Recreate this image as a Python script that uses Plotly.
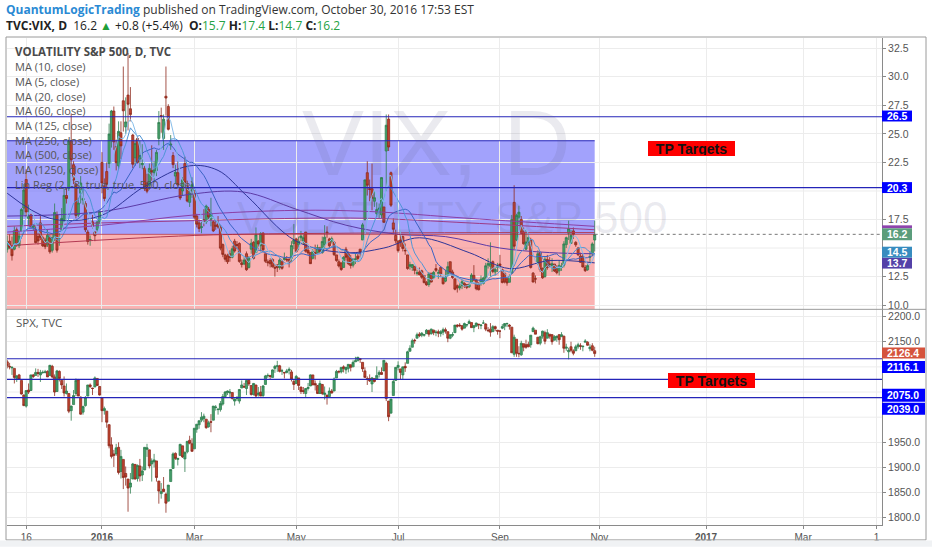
import pandas as pd
import plotly.graph_objects as go
from plotly.subplots import make_subplots

# ---------------- data ----------------
holidays = ["2015-11-26", "2015-12-25", "2016-01-01", "2016-01-18", "2016-02-15",
            "2016-03-25", "2016-05-30", "2016-07-04", "2016-09-05"]
dates = [d for d in pd.bdate_range("2015-11-04", "2016-10-28")
         if d.strftime("%Y-%m-%d") not in holidays]

vix_open = [
    14.9, 15.6, 15.1, 14.9, 16.6, 15.2, 16.5, 18.5, 21.0, 17.6, 17.9, 16.8, 16.6, 16.0, 17.2, 15.9, 15.7, 15.3,
    15.9, 14.8, 15.9, 17.9, 15.8, 16.6, 17.4, 19.6, 20.2, 24.4, 22.3, 20.6, 17.9, 19.8, 19.2, 18.9, 16.4, 15.7, 17.3, 16.4, 16.6, 17.3,
    22.5, 20.4, 21.7, 22.4, 24.4, 27.0, 23.9, 22.2, 25.1, 27.9, 25.6, 28.4, 27.2, 24.9, 22.9, 24.6, 22.8, 22.3, 22.0,
    20.7, 20.5, 21.8, 21.6, 21.8, 24.6, 26.6, 24.6, 28.3, 27.4, 24.0, 23.1, 21.3, 21.6, 20.2, 20.0, 22.4, 20.4, 19.0, 20.0,
    19.8, 17.8, 17.2, 16.8, 17.5, 17.3, 18.4, 17.5, 17.3, 17.0, 17.1, 16.8, 15.3, 14.4, 14.3, 14.5, 14.2, 15.6, 15.3, 15.4, 13.7, 13.6,
    14.5, 13.3, 14.9, 15.5, 14.6, 15.6, 15.2, 16.3, 14.5, 13.8, 13.9, 14.0, 13.3, 13.5, 13.3, 13.8, 14.0, 14.0, 14.0, 14.1, 15.4,
    15.8, 15.3, 15.9, 15.6, 16.4, 14.8, 14.6, 14.1, 14.6, 14.6, 15.0, 14.6, 15.3, 16.4, 15.8, 15.6, 15.5, 14.4, 13.8, 13.7, 13.3,
    14.9, 14.5, 14.1, 13.5, 14.0, 14.3, 14.9, 15.7, 17.5, 21.6, 20.2, 20.2, 19.1, 18.0, 18.4, 17.9, 18.6, 23.5, 26.3, 21.6, 17.2, 16.1,
    15.6, 15.7, 16.0, 14.8, 14.4, 13.4, 13.3, 13.4, 12.8, 12.9, 13.0, 12.6, 12.0, 11.8, 12.8, 12.4, 13.2, 12.8, 13.3, 12.4,
    12.1, 12.6, 13.8, 12.9, 12.3, 11.7, 11.5, 11.7, 11.9, 11.8, 11.6, 12.0, 12.6, 12.2, 11.9, 12.0, 11.9, 12.4, 13.5, 13.4, 13.8, 12.9, 13.3,
    13.6, 13.1, 12.8, 12.3, 12.0, 12.8, 19.0, 15.7, 17.7, 17.5, 16.4, 14.9, 15.5, 15.7, 12.8, 12.3, 13.7, 14.6, 13.2, 12.5, 14.0,
    13.6, 13.4, 13.6, 13.2, 13.0, 13.3, 13.5, 15.3, 16.3, 15.4, 16.5, 15.5, 15.0, 14.3, 14.3, 13.3, 13.1, 14.2, 14.5, 15.7,
]
vix_high = [
    16.1, 16.2, 16.0, 16.9, 16.8, 16.4, 18.5, 20.6, 21.9, 18.8, 18.0, 17.1, 16.9, 16.3, 17.8, 16.1, 15.9, 16.6,
    16.2, 16.2, 18.9, 18.2, 16.3, 18.5, 20.2, 20.3, 24.5, 26.8, 22.6, 20.7, 19.4, 21.3, 20.4, 19.1, 16.6, 16.1, 17.9, 16.5, 17.4, 18.3,
    23.4, 21.1, 22.5, 25.9, 27.1, 27.4, 24.5, 26.1, 26.1, 30.9, 28.2, 32.1, 29.1, 25.0, 24.5, 24.8, 24.4, 24.1, 22.2,
    21.5, 22.4, 24.0, 22.6, 23.6, 27.0, 27.3, 26.7, 30.9, 27.6, 24.9, 23.4, 22.3, 22.6, 20.3, 21.2, 23.0, 20.9, 20.1, 21.2,
    20.1, 18.0, 17.5, 17.3, 18.4, 18.8, 18.6, 19.4, 17.4, 17.4, 17.8, 17.0, 15.4, 14.5, 14.5, 14.8, 15.2, 15.8, 15.6, 15.5, 14.0, 14.2,
    14.7, 14.3, 15.8, 15.6, 16.8, 15.7, 16.4, 16.4, 14.5, 14.0, 14.1, 14.1, 13.6, 13.6, 14.1, 13.9, 14.6, 14.3, 14.2, 15.6, 17.1,
    15.9, 16.0, 16.5, 16.2, 16.4, 15.1, 14.6, 14.9, 15.3, 15.3, 15.1, 16.0, 17.0, 16.9, 15.9, 16.0, 15.6, 14.4, 14.0, 13.7, 14.3,
    15.1, 14.5, 14.4, 14.1, 14.5, 14.5, 14.9, 17.2, 21.0, 22.6, 21.0, 22.4, 20.0, 19.0, 18.9, 21.2, 18.6, 26.7, 26.7, 21.7, 17.6, 16.6,
    15.7, 16.2, 16.1, 15.4, 14.4, 13.8, 13.6, 13.4, 13.1, 13.3, 13.1, 12.6, 12.1, 12.9, 12.8, 13.0, 13.6, 13.1, 13.3, 12.5,
    13.1, 13.8, 13.8, 13.1, 12.3, 11.8, 11.9, 12.2, 12.0, 11.8, 11.9, 12.8, 13.5, 12.3, 12.0, 12.6, 12.5, 13.7, 14.1, 15.5, 13.9, 13.3, 13.7,
    14.4, 13.2, 12.8, 12.4, 12.7, 17.9, 20.5, 18.0, 18.7, 17.8, 16.8, 16.6, 16.3, 15.9, 12.9, 12.6, 14.8, 14.7, 13.3, 14.2, 14.4,
    14.2, 14.1, 13.6, 13.5, 13.9, 13.7, 15.6, 16.0, 17.4, 16.6, 16.8, 15.6, 15.1, 14.6, 14.5, 13.5, 13.7, 14.7, 15.5, 17.4,
]
vix_low = [
    14.6, 14.9, 13.9, 14.8, 15.1, 15.0, 16.4, 17.9, 17.7, 16.9, 16.8, 16.5, 15.4, 15.3, 15.7, 15.1, 14.9, 15.1,
    14.5, 14.6, 15.6, 14.6, 15.2, 16.5, 17.3, 18.9, 20.0, 22.0, 20.6, 17.6, 17.7, 18.9, 18.8, 16.4, 15.3, 15.2, 16.7, 15.6, 16.4, 17.1,
    19.8, 19.1, 20.2, 22.0, 23.8, 23.6, 21.8, 21.9, 22.8, 25.2, 25.0, 25.3, 26.1, 22.0, 22.2, 22.4, 22.0, 21.9, 20.0,
    19.8, 20.1, 20.9, 20.8, 21.3, 24.0, 25.1, 23.6, 26.6, 25.3, 23.6, 22.0, 20.7, 20.4, 19.2, 19.6, 20.5, 19.0, 18.6, 19.4,
    17.5, 16.8, 16.4, 16.3, 16.9, 17.1, 17.5, 16.9, 16.4, 16.6, 16.7, 14.8, 14.2, 13.8, 13.6, 13.8, 14.1, 14.6, 14.9, 13.7, 13.3, 13.5,
    13.0, 13.2, 14.5, 14.0, 14.6, 14.9, 14.7, 14.6, 13.7, 13.4, 13.3, 13.3, 12.5, 12.9, 13.1, 13.1, 13.9, 13.8, 13.3, 13.8, 14.9,
    14.6, 14.8, 15.6, 15.3, 14.6, 14.4, 13.6, 14.0, 14.0, 14.5, 14.5, 14.5, 15.0, 15.9, 15.0, 15.4, 14.3, 13.8, 13.3, 13.0, 13.3,
    13.9, 13.5, 13.2, 13.3, 13.6, 13.8, 14.2, 15.7, 17.4, 19.6, 19.1, 18.3, 18.6, 17.7, 17.6, 17.6, 17.2, 20.0, 23.5, 18.6, 16.3, 15.4,
    14.6, 15.1, 14.7, 14.4, 13.1, 13.1, 13.0, 12.7, 12.6, 12.6, 12.3, 11.9, 11.7, 11.6, 12.0, 12.3, 12.9, 12.3, 12.5, 11.8,
    12.0, 12.5, 12.7, 12.3, 11.3, 11.1, 11.3, 11.4, 11.5, 11.4, 11.5, 11.9, 12.1, 11.3, 11.3, 11.7, 11.8, 12.2, 13.2, 12.5, 12.8, 12.6, 12.9,
    13.2, 11.9, 11.9, 11.7, 12.0, 12.8, 14.9, 15.6, 17.1, 16.2, 15.3, 14.8, 15.2, 13.2, 12.0, 11.9, 13.5, 12.9, 12.3, 12.4, 13.1,
    13.3, 12.9, 12.9, 12.7, 12.6, 13.0, 13.3, 15.0, 15.7, 15.4, 15.8, 15.1, 14.3, 13.7, 13.3, 12.9, 13.0, 13.8, 14.3, 14.7,
]
vix_close = [
    15.51, 15.05, 14.33, 16.52, 15.29, 16.06, 18.37, 20.08, 18.16, 17.83, 16.85, 16.99, 15.47, 15.62, 15.93, 15.19, 15.12, 16.13,
    14.67, 15.91, 18.11, 14.81, 15.84, 17.60, 19.61, 19.34, 24.39, 22.73, 20.95, 17.86, 18.94, 20.70, 19.34, 16.60, 15.57, 15.74, 16.91, 16.08, 17.29, 18.21,
    20.70, 19.34, 20.59, 24.99, 27.01, 24.30, 22.47, 25.22, 23.95, 27.02, 26.05, 27.59, 26.69, 22.34, 24.15, 22.50, 23.11, 22.42, 20.20,
    19.98, 21.98, 21.65, 21.84, 23.38, 26.00, 26.54, 26.29, 28.14, 25.40, 24.11, 22.31, 21.64, 20.53, 19.38, 20.98, 20.72, 19.11, 19.81, 20.55,
    17.70, 17.09, 16.70, 16.86, 17.35, 18.67, 17.72, 18.05, 16.50, 16.92, 16.84, 14.99, 14.44, 14.02, 13.79, 14.17, 14.94, 14.74, 15.24, 13.82, 13.56, 13.95,
    13.10, 14.12, 15.42, 14.09, 16.16, 15.36, 16.26, 14.85, 13.84, 13.72, 13.62, 13.35, 13.24, 13.28, 13.95, 13.22, 14.08, 13.96, 13.77, 15.22, 15.70,
    14.68, 15.60, 16.05, 15.91, 14.72, 14.57, 13.63, 14.69, 14.41, 15.04, 14.68, 15.57, 15.95, 16.33, 15.20, 15.82, 14.42, 13.90, 13.43, 13.12, 14.19,
    14.20, 13.63, 13.47, 14.01, 14.05, 14.08, 14.64, 17.03, 20.97, 20.50, 20.14, 19.37, 19.41, 18.37, 18.48, 21.17, 17.25, 25.76, 23.85, 18.75, 16.64, 15.63,
    14.77, 15.58, 14.96, 14.76, 13.20, 13.54, 13.55, 13.04, 12.82, 12.67, 12.44, 11.97, 11.77, 12.74, 12.02, 12.87, 13.05, 12.83, 12.72, 11.87,
    12.44, 13.37, 12.86, 12.42, 11.39, 11.50, 11.66, 12.05, 11.68, 11.55, 11.81, 12.64, 12.19, 11.43, 11.34, 12.27, 12.38, 13.45, 13.63, 13.65, 12.94, 13.12, 13.42,
    13.48, 11.98, 12.02, 11.94, 12.51, 17.50, 15.16, 17.85, 18.14, 16.30, 15.37, 15.53, 15.92, 13.30, 12.02, 12.29, 14.50, 13.10, 12.39, 14.02, 13.29,
    13.57, 13.63, 12.99, 12.84, 13.48, 13.38, 15.36, 15.91, 16.69, 16.12, 16.21, 15.28, 14.41, 13.75, 13.34, 13.02, 13.46, 14.24, 15.36, 16.19,
]

spx_open = [
    2110, 2101, 2098, 2097, 2077, 2084, 2073, 2044, 2022, 2054, 2053, 2084, 2083, 2089, 2084, 2089, 2089, 2091,
    2083, 2101, 2080, 2051, 2091, 2073, 2062, 2047, 2047, 2013, 2025, 2047, 2074, 2040, 2010, 2023, 2042, 2064, 2058, 2060, 2077, 2061,
    2038, 2013, 2012, 1985, 1945, 1927, 1927, 1940, 1892, 1916, 1888, 1877, 1861, 1877, 1906, 1878, 1903, 1885, 1895,
    1936, 1935, 1907, 1911, 1913, 1873, 1848, 1857, 1847, 1833, 1872, 1898, 1928, 1916, 1924, 1943, 1917, 1931, 1954, 1947,
    1937, 1976, 1985, 1994, 1997, 1996, 1981, 1991, 1994, 2019, 2015, 2015, 2026, 2041, 2049, 2048, 2049, 2032, 2037, 2032, 2058, 2061,
    2057, 2073, 2063, 2045, 2064, 2045, 2050, 2043, 2065, 2082, 2083, 2079, 2097, 2101, 2102, 2092, 2089, 2089, 2093, 2090, 2071,
    2067, 2078, 2060, 2053, 2047, 2057, 2062, 2084, 2067, 2063, 2047, 2065, 2045, 2044, 2041, 2052, 2052, 2078, 2091, 2090, 2100,
    2094, 2097, 2104, 2100, 2110, 2112, 2116, 2109, 2092, 2077, 2077, 2066, 2077, 2075, 2085, 2089, 2092, 2107, 2032, 2008, 2043, 2073,
    2099, 2096, 2084, 2101, 2107, 2131, 2139, 2153, 2157, 2165, 2163, 2163, 2166, 2172, 2166, 2173, 2168, 2170, 2166, 2169,
    2174, 2170, 2157, 2163, 2168, 2183, 2183, 2182, 2177, 2183, 2186, 2188, 2178, 2181, 2185, 2182, 2187, 2185, 2173, 2175, 2170, 2180, 2173,
    2171, 2177, 2181, 2186, 2183, 2179, 2125, 2155, 2127, 2124, 2146, 2144, 2145, 2144, 2170, 2173, 2159, 2147, 2161, 2168, 2157,
    2165, 2164, 2153, 2158, 2164, 2160, 2161, 2137, 2130, 2140, 2132, 2132, 2140, 2142, 2140, 2149, 2149, 2136, 2142, 2132,
]
spx_high = [
    2114, 2108, 2101, 2097, 2084, 2086, 2073, 2045, 2053, 2067, 2084, 2086, 2097, 2096, 2094, 2093, 2094, 2093,
    2104, 2104, 2085, 2094, 2093, 2073, 2081, 2067, 2047, 2023, 2054, 2077, 2076, 2041, 2023, 2042, 2064, 2067, 2058, 2081, 2077, 2062,
    2038, 2021, 2012, 1986, 1960, 1935, 1947, 1950, 1935, 1916, 1902, 1877, 1889, 1909, 1907, 1906, 1917, 1902, 1940,
    1947, 1935, 1918, 1927, 1913, 1873, 1869, 1881, 1850, 1865, 1896, 1930, 1930, 1919, 1947, 1943, 1932, 1952, 1963, 1958,
    1978, 1986, 1993, 2010, 2007, 1996, 1993, 2006, 2022, 2024, 2016, 2032, 2046, 2052, 2053, 2056, 2049, 2037, 2042, 2056, 2073, 2068,
    2075, 2074, 2063, 2068, 2064, 2060, 2062, 2064, 2084, 2087, 2083, 2095, 2104, 2112, 2104, 2096, 2089, 2096, 2099, 2094, 2074,
    2084, 2078, 2060, 2060, 2058, 2068, 2085, 2084, 2073, 2064, 2073, 2066, 2061, 2044, 2059, 2056, 2079, 2094, 2093, 2099, 2103,
    2100, 2105, 2105, 2113, 2120, 2120, 2117, 2109, 2099, 2081, 2085, 2080, 2077, 2101, 2093, 2099, 2113, 2110, 2032, 2036, 2074, 2099,
    2111, 2096, 2100, 2109, 2132, 2143, 2156, 2156, 2168, 2169, 2169, 2164, 2175, 2174, 2176, 2174, 2173, 2174, 2173, 2178,
    2178, 2170, 2165, 2169, 2183, 2185, 2187, 2182, 2188, 2185, 2194, 2188, 2183, 2188, 2185, 2185, 2193, 2187, 2179, 2187, 2183, 2182, 2173,
    2173, 2185, 2187, 2188, 2185, 2179, 2164, 2155, 2141, 2152, 2146, 2154, 2150, 2163, 2180, 2173, 2159, 2162, 2172, 2172, 2175,
    2165, 2165, 2163, 2162, 2165, 2169, 2162, 2146, 2138, 2150, 2135, 2144, 2148, 2147, 2142, 2155, 2151, 2145, 2147, 2140,
]
spx_low = [
    2097, 2095, 2084, 2067, 2070, 2074, 2045, 2022, 2019, 2046, 2052, 2078, 2083, 2080, 2070, 2086, 2087, 2080,
    2083, 2077, 2042, 2051, 2071, 2056, 2041, 2045, 2008, 1993, 2025, 2042, 2042, 2005, 2005, 2021, 2042, 2058, 2044, 2060, 2062, 2043,
    1990, 2005, 1979, 1938, 1918, 1901, 1923, 1886, 1878, 1857, 1864, 1812, 1848, 1877, 1876, 1872, 1872, 1873, 1895,
    1921, 1898, 1872, 1900, 1872, 1828, 1838, 1851, 1810, 1833, 1872, 1898, 1915, 1904, 1924, 1919, 1891, 1928, 1946, 1932,
    1937, 1969, 1977, 1990, 1990, 1977, 1979, 1970, 1994, 2013, 2005, 2011, 2023, 2038, 2044, 2039, 2035, 2023, 2032, 2027, 2058, 2058,
    2044, 2062, 2043, 2043, 2040, 2041, 2042, 2039, 2065, 2078, 2075, 2079, 2088, 2090, 2089, 2084, 2077, 2087, 2085, 2071, 2054,
    2067, 2054, 2046, 2046, 2039, 2053, 2062, 2064, 2053, 2046, 2047, 2044, 2035, 2025, 2041, 2047, 2052, 2078, 2087, 2087, 2089,
    2086, 2089, 2091, 2100, 2110, 2112, 2108, 2090, 2079, 2064, 2070, 2050, 2069, 2075, 2079, 2084, 2092, 2032, 1992, 2008, 2043, 2073,
    2093, 2075, 2075, 2090, 2107, 2131, 2139, 2146, 2157, 2159, 2159, 2160, 2166, 2160, 2164, 2163, 2161, 2159, 2160, 2163,
    2166, 2149, 2155, 2159, 2168, 2178, 2179, 2172, 2177, 2179, 2186, 2178, 2169, 2180, 2175, 2175, 2187, 2171, 2169, 2160, 2170, 2171, 2164,
    2157, 2175, 2173, 2179, 2174, 2128, 2120, 2120, 2119, 2122, 2131, 2136, 2139, 2138, 2170, 2165, 2145, 2143, 2156, 2145, 2157,
    2156, 2144, 2153, 2150, 2144, 2160, 2128, 2132, 2115, 2129, 2123, 2132, 2136, 2134, 2131, 2149, 2142, 2131, 2131, 2120,
]
spx_close = [
    2102, 2100, 2099, 2079, 2082, 2075, 2046, 2023, 2053, 2050, 2084, 2081, 2089, 2087, 2089, 2089, 2090, 2080,
    2103, 2080, 2050, 2092, 2077, 2064, 2048, 2052, 2012, 2022, 2043, 2073, 2042, 2006, 2021, 2039, 2064, 2061, 2057, 2078, 2063, 2044,
    2013, 2017, 1990, 1943, 1922, 1924, 1939, 1890, 1922, 1880, 1881, 1859, 1869, 1907, 1877, 1904, 1883, 1893, 1940,
    1939, 1903, 1913, 1915, 1880, 1853, 1852, 1852, 1829, 1865, 1896, 1927, 1918, 1918, 1946, 1921, 1930, 1952, 1948, 1932,
    1978, 1986, 1993, 2000, 2002, 1979, 1989, 1990, 2022, 2020, 2016, 2027, 2041, 2050, 2052, 2050, 2037, 2036, 2037, 2055, 2064, 2060,
    2073, 2066, 2045, 2067, 2042, 2048, 2042, 2062, 2082, 2083, 2081, 2094, 2101, 2102, 2091, 2092, 2088, 2092, 2095, 2076, 2065,
    2081, 2063, 2051, 2051, 2057, 2059, 2084, 2064, 2064, 2047, 2067, 2047, 2048, 2040, 2052, 2048, 2076, 2091, 2090, 2099, 2097,
    2099, 2105, 2099, 2109, 2112, 2119, 2115, 2096, 2079, 2075, 2072, 2078, 2071, 2083, 2089, 2085, 2113, 2037, 2001, 2036, 2071, 2099,
    2103, 2089, 2100, 2098, 2130, 2137, 2152, 2152, 2164, 2162, 2167, 2164, 2173, 2165, 2175, 2168, 2169, 2167, 2170, 2174,
    2171, 2157, 2164, 2164, 2183, 2181, 2182, 2175, 2186, 2184, 2190, 2178, 2182, 2187, 2184, 2183, 2187, 2175, 2172, 2169, 2180, 2176, 2171,
    2171, 2180, 2186, 2186, 2181, 2128, 2159, 2127, 2126, 2147, 2139, 2139, 2140, 2163, 2177, 2165, 2146, 2160, 2171, 2151, 2168,
    2161, 2150, 2160, 2161, 2154, 2164, 2137, 2139, 2133, 2133, 2127, 2140, 2144, 2141, 2141, 2151, 2143, 2139, 2133, 2126.4,
]

for name, arr in [("vix_open", vix_open), ("vix_high", vix_high), ("vix_low", vix_low), ("vix_close", vix_close),
                  ("spx_open", spx_open), ("spx_high", spx_high), ("spx_low", spx_low), ("spx_close", spx_close)]:
    assert len(arr) == len(dates), f"{name}: {len(arr)} vs {len(dates)}"

# long moving averages (knots)
ma60_dates = ["2015-11-04", "2015-12-01", "2015-12-31", "2016-01-29", "2016-02-26", "2016-03-15", "2016-04-01",
              "2016-05-02", "2016-06-01", "2016-06-23", "2016-07-15", "2016-08-15", "2016-09-08", "2016-10-03", "2016-10-28"]
ma60_vals = [19.8, 17.6, 17.8, 20.4, 22.2, 21.8, 19.6, 15.6, 14.6, 15.0, 15.9, 14.6, 13.2, 13.9, 13.7]
ma125_dates = ["2015-11-04", "2016-01-04", "2016-02-26", "2016-03-31", "2016-05-02", "2016-06-01", "2016-07-01",
               "2016-08-01", "2016-09-01", "2016-10-03", "2016-10-28"]
ma125_vals = [17.8, 18.2, 19.7, 19.9, 18.4, 17.0, 16.2, 16.0, 15.0, 14.6, 14.5]
ma250_dates = ["2015-11-04", "2016-01-04", "2016-03-01", "2016-05-02", "2016-06-15", "2016-08-15", "2016-10-28"]
ma250_vals = [16.4, 17.0, 17.9, 18.3, 18.2, 17.6, 16.9]
ma500_vals = [16.9, 17.2, 17.4, 17.6, 17.6, 17.2, 16.6]
ma1250_dates = ["2015-11-04", "2016-03-01", "2016-06-01", "2016-10-28"]
ma1250_vals = [15.2, 16.1, 16.3, 16.35]

vix_levels = [26.5, 20.3]
spx_levels = [2116.1, 2075.0, 2039.0]
vix_zone_top = 24.4
vix_last = 16.2
ma_label_vals = [14.5, 13.7]
spx_last = 2126.4

# price-axis ticks (those hidden behind the price labels are left out, their grid kept)
vix_ticks = [10.0, 12.5, 17.5, 22.5, 25.0, 27.5, 30.0, 32.5]
vix_hidden_grid = [15.0, 20.0]
spx_ticks = [1800, 1850, 1900, 1950, 2150, 2200]
spx_hidden_grid = [2000, 2050, 2100]

tick_dates = ["2015-11-16", "2016-01-04", "2016-03-01", "2016-05-02", "2016-07-01", "2016-09-01",
              "2016-11-01", "2017-01-03", "2017-03-01", "2017-04-13"]
tick_text = ["16", "<b>2016</b>", "Mar", "May", "Jul", "Sep", "Nov", "<b>2017</b>", "Mar", "1"]

legend_lines = ["MA (10, close)", "MA (5, close)", "MA (20, close)", "MA (60, close)", "MA (125, close)",
                "MA (250, close)", "MA (500, close)", "MA (1250, close)", "Lin Reg (2, -8, true, true, 500, close)"]

# ---------------- geometry helpers ----------------
W, H = 932, 550
L, R, T, B = 7, 882, 38, 528
def px_x(p): return (p - L) / (R - L)
def px_y(p): return (B - p) / (B - T)

x_lo, x_hi = "2015-11-03 21:36", "2017-04-17 07:00"
top_frac = (311 - T) / (B - T)

fig = make_subplots(rows=2, cols=1, shared_xaxes=True, vertical_spacing=0,
                    row_heights=[top_frac, 1 - top_frac])

UP_LINE, UP_FILL = "#2f7d4f", "#46a06a"
DN_LINE, DN_FILL = "#8e2a1d", "#c0432e"

closes = pd.Series(vix_close)
ma5 = closes.rolling(5, min_periods=1).mean()
ma10 = closes.rolling(10, min_periods=1).mean()
ma20 = closes.rolling(20, min_periods=1).mean()

def line(x, y, color, width=1.0, shape="linear"):
    return go.Scatter(x=x, y=y, mode="lines", line=dict(color=color, width=width, shape=shape),
                      hoverinfo="skip", showlegend=False)

fig.add_trace(line(ma1250_dates, ma1250_vals, "#b33a52", 1.0, "spline"), 1, 1)
fig.add_trace(line(ma250_dates, ma500_vals, "#9c3b86", 1.0, "spline"), 1, 1)
fig.add_trace(line(ma250_dates, ma250_vals, "#8a3fa6", 1.0, "spline"), 1, 1)
fig.add_trace(line(ma125_dates, ma125_vals, "#5c3aa6", 1.0, "spline"), 1, 1)
fig.add_trace(line(ma60_dates, ma60_vals, "#2e3598", 1.0, "spline"), 1, 1)

fig.add_trace(go.Candlestick(x=dates, open=vix_open, high=vix_high, low=vix_low, close=vix_close,
                             increasing=dict(line=dict(color=UP_LINE, width=0.8), fillcolor=UP_FILL),
                             decreasing=dict(line=dict(color=DN_LINE, width=0.8), fillcolor=DN_FILL),
                             whiskerwidth=0, hoverinfo="skip", showlegend=False), 1, 1)

fig.add_trace(line(dates, ma20, "#3b63c4", 1.0), 1, 1)
fig.add_trace(line(dates, ma10, "#4f95d6", 1.0), 1, 1)
fig.add_trace(line(dates, ma5, "#86bde9", 1.0), 1, 1)

fig.add_trace(go.Candlestick(x=dates, open=spx_open, high=spx_high, low=spx_low, close=spx_close,
                             increasing=dict(line=dict(color=UP_LINE, width=0.8), fillcolor=UP_FILL),
                             decreasing=dict(line=dict(color=DN_LINE, width=0.8), fillcolor=DN_FILL),
                             whiskerwidth=0, hoverinfo="skip", showlegend=False), 2, 1)

# ---------------- shapes ----------------
shapes = []
LVL = "#2424b8"
GRID = "#ececec"
for v in vix_hidden_grid:
    shapes.append(dict(type="line", xref="paper", yref="y", x0=0, x1=1, y0=v, y1=v,
                       line=dict(color=GRID, width=1), layer="below"))
for v in spx_hidden_grid:
    shapes.append(dict(type="line", xref="paper", yref="y2", x0=0, x1=1, y0=v, y1=v,
                       line=dict(color=GRID, width=1), layer="below"))
shapes.append(dict(type="rect", xref="x", yref="y", x0=x_lo, x1=dates[-1], y0=vix_last, y1=vix_zone_top,
                   fillcolor="rgba(85,85,250,0.55)", line_width=0, layer="below"))
shapes.append(dict(type="rect", xref="x", yref="y", x0=x_lo, x1=dates[-1], y0=5, y1=vix_last,
                   fillcolor="rgba(245,85,85,0.45)", line_width=0, layer="below"))
shapes.append(dict(type="line", xref="x", yref="y", x0=x_lo, x1=dates[-1], y0=vix_zone_top, y1=vix_zone_top,
                   line=dict(color=LVL, width=1.2), layer="above"))
shapes.append(dict(type="line", xref="x", yref="y", x0=x_lo, x1=dates[-1], y0=vix_last, y1=vix_last,
                   line=dict(color="rgba(170,40,60,0.7)", width=1), layer="above"))
for v in vix_levels:
    shapes.append(dict(type="line", xref="paper", yref="y", x0=0, x1=1, y0=v, y1=v,
                       line=dict(color=LVL, width=1.2), layer="above"))
for v in spx_levels:
    shapes.append(dict(type="line", xref="paper", yref="y2", x0=0, x1=1, y0=v, y1=v,
                       line=dict(color=LVL, width=1.2), layer="above"))
shapes.append(dict(type="line", xref="x", yref="y", x0=dates[-1], x1=x_hi, y0=vix_last, y1=vix_last,
                   line=dict(color="#777777", width=1, dash="dot"), layer="above"))

# frame and pane separator
shapes.append(dict(type="rect", xref="paper", yref="paper", x0=px_x(6), x1=px_x(926), y0=px_y(543), y1=px_y(37),
                   line=dict(color="#9a9a9a", width=1), fillcolor="rgba(0,0,0,0)", layer="above"))
shapes.append(dict(type="line", xref="paper", yref="paper", x0=px_x(6), x1=px_x(926), y0=px_y(311), y1=px_y(311),
                   line=dict(color="#9a9a9a", width=1), layer="above"))
shapes.append(dict(type="rect", xref="paper", yref="paper", x0=px_x(0), x1=px_x(932), y0=px_y(550), y1=px_y(543.5),
                   fillcolor="#f0f2f4", line_width=0, layer="above"))

annotations = []

def label_box(py0, py1, px1, color, text):
    shapes.append(dict(type="rect", xref="paper", yref="paper", x0=px_x(882), x1=px_x(px1),
                       y0=px_y(py1), y1=px_y(py0), fillcolor=color, line_width=0, layer="above"))
    annotations.append(dict(xref="paper", yref="paper", x=px_x((882 + px1) / 2), y=px_y((py0 + py1) / 2),
                            text="<b>" + text + "</b>", showarrow=False, xanchor="center", yanchor="middle",
                            borderpad=0, font=dict(color="white", size=10.5, family="Liberation Sans")))

label_box(111, 122, 912, "#0000ff", f"{vix_levels[0]:.1f}")
label_box(183, 194, 912, "#0000ff", f"{vix_levels[1]:.1f}")
shapes.append(dict(type="rect", xref="paper", yref="paper", x0=px_x(882), x1=px_x(912),
                   y0=px_y(229.5), y1=px_y(226.5), fillcolor="#8e44ad", line_width=0, layer="above"))
label_box(229.5, 241.5, 912, "#5b9d7c", f"{vix_last:.1f}")
label_box(259, 270, 912, "#5441a8", f"{ma_label_vals[1]:.1f}")
label_box(248, 259, 912, "#378cbf", f"{ma_label_vals[0]:.1f}")
label_box(349.5, 360.5, 925, "#d5533d", f"{spx_last:.1f}")
label_box(363, 375, 925, "#0000ff", f"{spx_levels[0]:.1f}")
label_box(391, 404, 925, "#0000ff", f"{spx_levels[1]:.1f}")
label_box(405, 417, 925, "#0000ff", f"{spx_levels[2]:.1f}")

# watermark
annotations.append(dict(xref="paper", yref="paper", x=px_x(436), y=px_y(144), text="VIX, D", showarrow=False,
                        xanchor="center", yanchor="middle",
                        font=dict(family="Liberation Sans", size=93, color="rgba(90,90,130,0.13)")))
annotations.append(dict(xref="paper", yref="paper", x=px_x(452), y=px_y(219), text="VOLATILITY S&P 500",
                        showarrow=False, xanchor="center", yanchor="middle",
                        font=dict(family="Liberation Sans", size=44, color="rgba(90,90,130,0.13)")))

# header
annotations.append(dict(xref="paper", yref="paper", x=px_x(4), y=px_y(9), xanchor="left", yanchor="middle",
                        showarrow=False, align="left",
                        text="<span style='color:#2a8ad4'><b>QuantumLogicTrading</b></span> published on TradingView.com, October 30, 2016 17:53 EST",
                        font=dict(family="Open Sans", size=12, color="#333333")))
G = "#25a244"
annotations.append(dict(xref="paper", yref="paper", x=px_x(4), y=px_y(25), xanchor="left", yanchor="middle",
                        showarrow=False, align="left",
                        text=("<b>TVC:VIX, D</b>  16.2 <span style='color:#1f9e38'>▲</span> +0.8 (+5.4%)  "
                              f"<b>O:</b><span style='color:{G}'>15.7</span> <b>H:</b><span style='color:{G}'>17.4</span> "
                              f"<b>L:</b><span style='color:{G}'>14.7</span> <b>C:</b><span style='color:{G}'>16.2</span>"),
                        font=dict(family="Open Sans", size=12, color="#222222")))

# pane legends
annotations.append(dict(xref="paper", yref="paper", x=px_x(14), y=px_y(52), xanchor="left", yanchor="middle",
                        showarrow=False, text="<b>VOLATILITY S&P 500, D, TVC</b>", borderpad=0,
                        font=dict(family="Open Sans", size=11.5, color="#4a4a4a")))
for i, t in enumerate(legend_lines):
    annotations.append(dict(xref="paper", yref="paper", x=px_x(14), y=px_y(67 + i * 14.75), xanchor="left",
                            yanchor="middle", showarrow=False, text=t, borderpad=0,
                            font=dict(family="Open Sans", size=11, color="#555555")))
annotations.append(dict(xref="paper", yref="paper", x=px_x(14), y=px_y(324), xanchor="left", yanchor="middle",
                        showarrow=False, text="SPX, TVC",
                        font=dict(family="Open Sans", size=11.5, color="#555555")))

# TP Targets labels
for cx, cy in [(691.5, 149), (711, 382.5)]:
    annotations.append(dict(xref="paper", yref="paper", x=px_x(cx), y=px_y(cy), xanchor="center", yanchor="middle",
                            showarrow=False, text="<b>TP Targets</b>", width=85, height=13, borderpad=1,
                            borderwidth=0, bgcolor="#ff0000",
                            font=dict(family="Liberation Sans", size=14, color="#111111")))

# ---------------- axes ----------------
xcommon = dict(type="date", range=[x_lo, x_hi],
               rangebreaks=[dict(bounds=["sat", "mon"]), dict(values=holidays)],
               tickvals=tick_dates, ticktext=tick_text, showgrid=True, gridcolor=GRID, gridwidth=1,
               zeroline=False, rangeslider=dict(visible=False))
fig.update_xaxes(**xcommon)
fig.update_xaxes(showticklabels=False, ticks="", row=1, col=1)
fig.update_xaxes(showticklabels=True, ticks="outside", ticklen=3, tickcolor="#888888",
                 tickfont=dict(family="Liberation Sans", size=10, color="#555555"),
                 showline=True, linecolor="#8a8a8a", linewidth=1, row=2, col=1)

ycommon = dict(side="right", showgrid=True, gridcolor=GRID, zeroline=False, ticks="outside", ticklen=3,
               tickcolor="#888888", showline=True, linecolor="#8a8a8a", linewidth=1, tickformat=".1f",
               tickfont=dict(family="Liberation Sans", size=10.5, color="#555555"))
fig.update_yaxes(**ycommon)
fig.update_yaxes(range=[9.63, 33.40], tickvals=vix_ticks, row=1, col=1)
fig.update_yaxes(range=[1785.6, 2214.4], tickvals=spx_ticks, row=2, col=1)

fig.update_layout(width=W, height=H, margin=dict(l=L, r=W - R, t=T, b=H - B),
                  paper_bgcolor="white", plot_bgcolor="white", showlegend=False, hovermode=False,
                  boxgap=0.12, boxgroupgap=0,
                  shapes=shapes, annotations=annotations)

fig.write_html("out.html", config={"displayModeBar": False},
               post_script="document.body.style.margin='0px';")
